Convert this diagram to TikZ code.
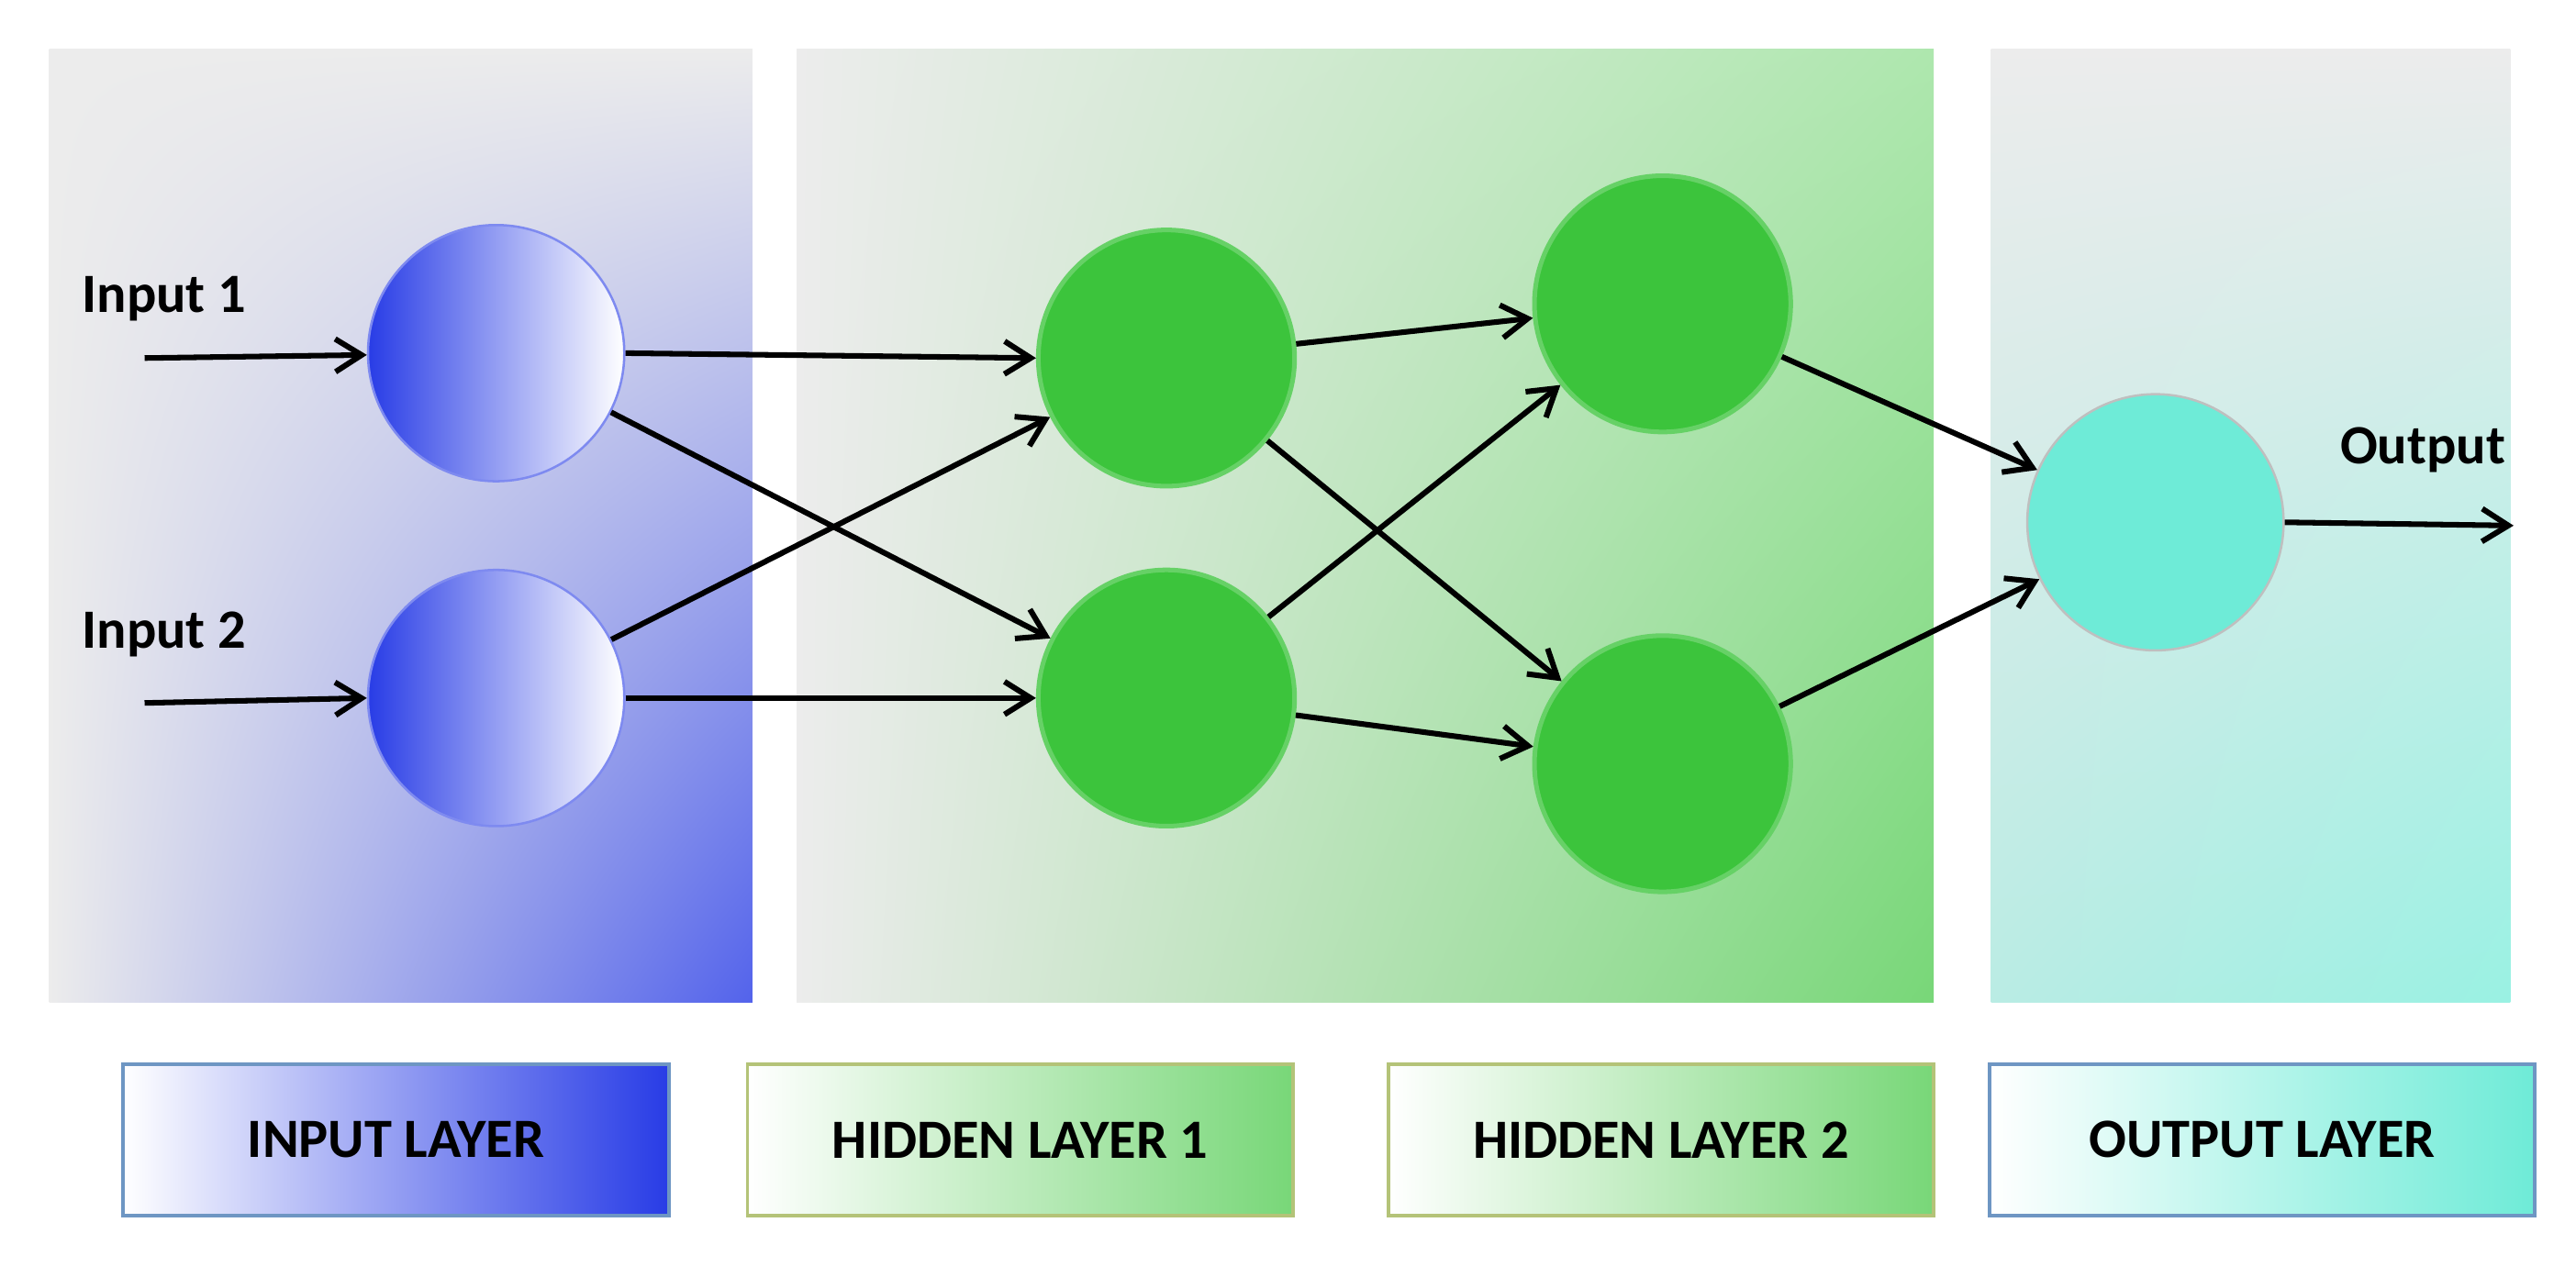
\documentclass[tikz,border=0pt]{standalone}
\usepackage{fontspec}
\setmainfont{Carlito}
\usetikzlibrary{arrows.meta,shadings}
\definecolor{pg}{RGB}{236,236,236}
\definecolor{bl}{RGB}{40,60,230}
\definecolor{gr}{RGB}{60,196,60}
\definecolor{hg}{RGB}{120,215,120}
\definecolor{cy}{RGB}{110,235,215}
\definecolor{bb}{RGB}{110,150,195}
\definecolor{ob}{RGB}{180,195,120}
\begin{document}
\begin{tikzpicture}[x=0.25mm,y=-0.25mm,
  lbl/.style={font=\fontsize{24}{28}\selectfont\bfseries},
  arr/.style={line width=2.4pt,-{Straight Barb[length=4mm,width=5mm]}},
  inn/.style={circle,minimum size=39mm,inner sep=0pt,draw=bl!60!white,line width=1pt,left color=bl,right color=white},
  hid/.style={circle,minimum size=39mm,inner sep=0pt,draw=green!70!black!60!white,line width=2pt,fill=gr},
  outn/.style={circle,minimum size=39mm,inner sep=0pt,draw=gray!50,line width=1pt,fill=cy},
  leg/.style={minimum width=83mm,minimum height=23mm,line width=1.5pt,lbl}]
\useasboundingbox (0,0) rectangle (1568,771);
\fill[white] (0,0) rectangle (1568,771);
% panels
\shade[upper left=pg,upper right=pg,lower left=pg,lower right=bl!80] (30,30) rectangle (458,610);
\shade[upper left=pg,upper right=hg!60,lower left=pg,lower right=hg] (485,30) rectangle (1177,610);
\shade[upper left=pg,upper right=pg,lower left=pg!60!cy,lower right=cy!70] (1212,30) rectangle (1528,610);
% nodes
\node[inn] (i1) at (302,215) {};
\node[inn] (i2) at (302,425) {};
\node[hid] (a1) at (710,218) {};
\node[hid] (a2) at (710,425) {};
\node[hid] (b1) at (1012,185) {};
\node[hid] (b2) at (1012,465) {};
\node[outn] (o) at (1312,318) {};
\node[lbl,anchor=west] (t1) at (45,182) {Input 1};
\node[lbl,anchor=west] (t2) at (45,386) {Input 2};
\node[lbl,anchor=east] (t3) at (1530,274) {Output};
\coordinate (s1) at (88,218);
\coordinate (s2) at (88,428);
\coordinate (e) at (1530,320);
\draw[arr] (s1) -- (i1);
\draw[arr] (s2) -- (i2.west);
\draw[arr] (i1.east) -- (a1.west);
\draw[arr] (i1) -- (a2);
\draw[arr] (i2) -- (a1);
\draw[arr] (i2.east) -- (a2.west);
\draw[arr] (a1) -- (b1);
\draw[arr] (a1) -- (b2);
\draw[arr] (a2) -- (b1);
\draw[arr] (a2) -- (b2);
\draw[arr] (b1) -- (o);
\draw[arr] (b2) -- (o);
\draw[arr] (o.east) -- (e);
% legend
\node[leg,draw=bb,left color=white,right color=bl] (L1) at (241,694) {INPUT LAYER};
\node[leg,draw=ob,left color=white,right color=hg] (L2) at (621,694) {HIDDEN LAYER 1};
\node[leg,draw=ob,left color=white,right color=hg] (L3) at (1011,694) {HIDDEN LAYER 2};
\node[leg,draw=bb,left color=white,right color=cy] (L4) at (1377,694) {OUTPUT LAYER};
\end{tikzpicture}
\end{document}
